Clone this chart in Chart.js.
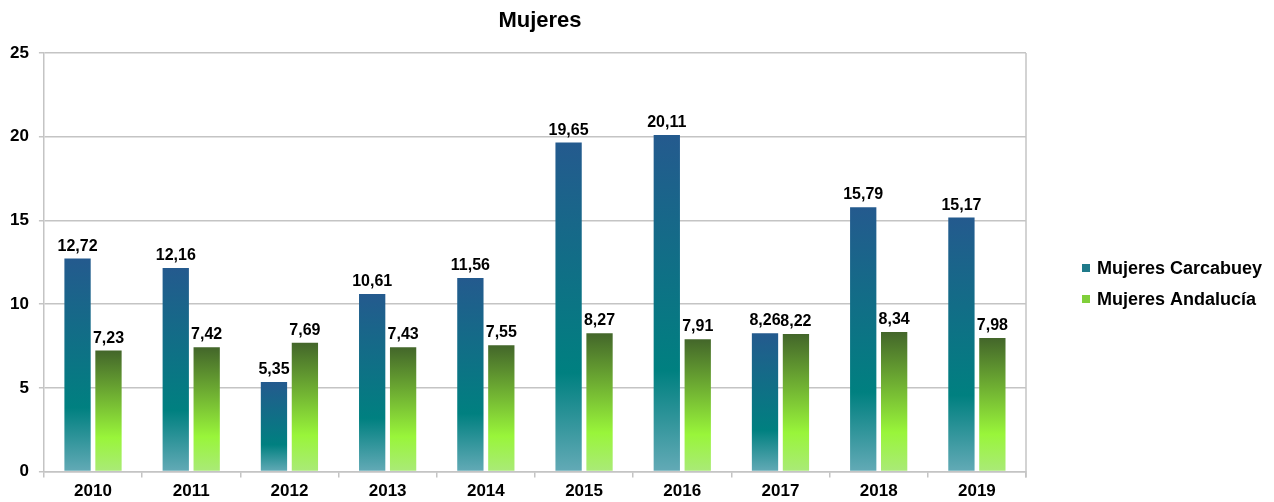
<!DOCTYPE html>
<html lang="es">
<head>
<meta charset="utf-8">
<title>Mujeres</title>
<script src="https://cdn.jsdelivr.net/npm/chart.js@4.4.0/dist/chart.umd.min.js"></script>
<style>
    html, body { margin: 0; padding: 0; background: #fff; }
    #contenedor { width: 1274px; height: 502px; }
</style>
</head>
<body>
<div id="contenedor"><canvas id="graficoMujeres"></canvas></div>
<script>
const anios = ["2010", "2011", "2012", "2013", "2014", "2015", "2016", "2017", "2018", "2019"];
const mujeresCarcabuey = [12.72, 12.16, 5.35, 10.61, 11.56, 19.65, 20.11, 8.26, 15.79, 15.17];
const mujeresAndalucia = [7.23, 7.42, 7.69, 7.43, 7.55, 8.27, 7.91, 8.22, 8.34, 7.98];
const ticksY = [0, 5, 10, 15, 20, 25];

const fuente = "'Liberation Sans', Arial, sans-serif";

// Degradado vertical por barra (oscuro arriba, claro abajo)
const paradasAzul = [[0, "#245a8e"], [0.7, "#008080"], [1, "#63aab6"]];
const paradasVerde = [[0, "#43662a"], [0.72, "#99f53a"], [1, "#aaea78"]];

function degradado(paradas, colorBase) {
    return function (ctx) {
        const chart = ctx.chart;
        if (!chart.chartArea || ctx.dataIndex === undefined) return colorBase;
        const y = chart.scales.y;
        const arriba = y.getPixelForValue(ctx.raw);
        const abajo = y.getPixelForValue(0);
        if (!isFinite(arriba) || arriba >= abajo) return colorBase;
        const g = chart.ctx.createLinearGradient(0, arriba, 0, abajo);
        paradas.forEach(p => g.addColorStop(p[0], p[1]));
        return g;
    };
}

// Título, etiquetas de datos, leyenda y borde derecho del área de trazado
const extras = {
    id: "extras",
    afterDatasetsDraw(chart) {
        const ctx = chart.ctx;
        const area = chart.chartArea;
        ctx.save();

        ctx.font = "bold 22px " + fuente;
        ctx.fillStyle = "#000";
        ctx.textAlign = "center";
        ctx.textBaseline = "middle";
        ctx.fillText("Mujeres", 540, 21);

        ctx.font = "bold 16px " + fuente;
        ctx.textBaseline = "alphabetic";
        chart.data.datasets.forEach((ds, i) => {
            chart.getDatasetMeta(i).data.forEach((barra, j) => {
                const texto = ds.data[j].toFixed(2).replace(".", ",");
                ctx.fillText(texto, barra.x, barra.y - 8);
            });
        });

        // borde derecho
        ctx.strokeStyle = "#c4c4c4";
        ctx.lineWidth = 1.5;
        ctx.beginPath();
        ctx.moveTo(area.right, area.top);
        ctx.lineTo(area.right, area.bottom + 6);
        ctx.stroke();

        // leyenda
        const items = [
            { texto: "Mujeres Carcabuey", color: "#1f7a8a" },
            { texto: "Mujeres Andalucía", color: "#80cf3a" }
        ];
        ctx.font = "bold 18px " + fuente;
        ctx.textAlign = "left";
        ctx.textBaseline = "middle";
        items.forEach((it, k) => {
            const yc = 268 + k * 31;
            ctx.fillStyle = it.color;
            ctx.fillRect(1082, yc - 4, 8, 8);
            ctx.fillStyle = "#000";
            ctx.fillText(it.texto, 1097, yc + 1);
        });
        ctx.restore();
    }
};

new Chart(document.getElementById("graficoMujeres"), {
    type: "bar",
    data: {
        labels: anios,
        datasets: [
            {
                label: "Mujeres Carcabuey",
                data: mujeresCarcabuey,
                backgroundColor: degradado(paradasAzul, "#1f6f8a"),
                categoryPercentage: 0.63,
                barPercentage: 0.85
            },
            {
                label: "Mujeres Andalucía",
                data: mujeresAndalucia,
                backgroundColor: degradado(paradasVerde, "#7cc83a"),
                categoryPercentage: 0.63,
                barPercentage: 0.85
            }
        ]
    },
    options: {
        responsive: true,
        maintainAspectRatio: false,
        animation: false,
        layout: {
            padding: { left: 0, right: 248, top: 53, bottom: -4 }
        },
        plugins: {
            legend: { display: false },
            tooltip: { enabled: false },
            title: { display: false }
        },
        scales: {
            x: {
                grid: {
                    offset: true,
                    drawOnChartArea: false,
                    drawTicks: true,
                    tickLength: 6,
                    color: "#c4c4c4",
                    lineWidth: 1.5
                },
                border: { color: "#c4c4c4", width: 1.5 },
                ticks: {
                    color: "#000",
                    padding: 4,
                    font: { family: fuente, size: 17, weight: "bold" }
                }
            },
            y: {
                min: 0,
                max: 25,
                afterBuildTicks(escala) {
                    escala.ticks = ticksY.map(v => ({ value: v }));
                },
                grid: {
                    color: "#c4c4c4",
                    lineWidth: 1.5,
                    tickLength: 5
                },
                border: { color: "#c4c4c4", width: 1.5 },
                ticks: {
                    color: "#000",
                    padding: 10,
                    font: { family: fuente, size: 17, weight: "bold" }
                }
            }
        }
    },
    plugins: [extras]
});
</script>
</body>
</html>
